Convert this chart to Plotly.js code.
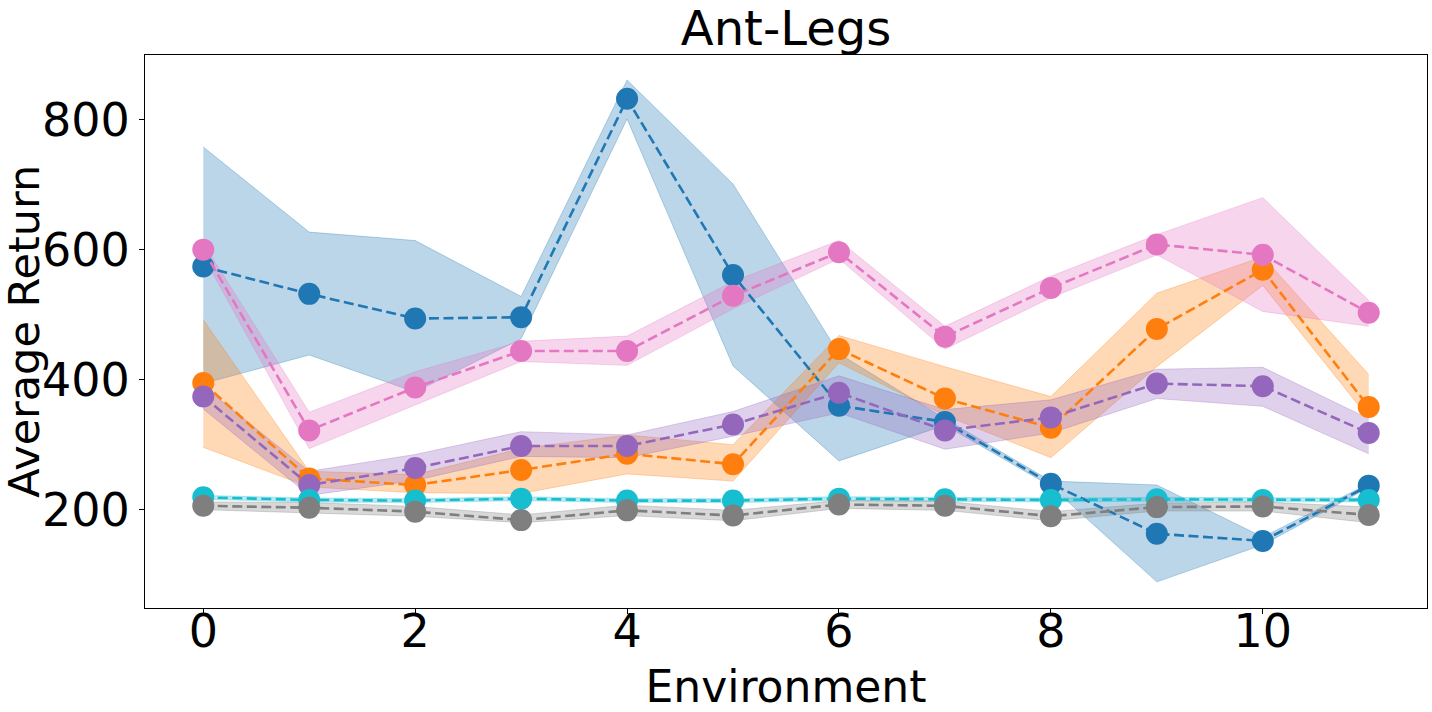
<!DOCTYPE html>
<html>
<head>
<meta charset="utf-8">
<script src="https://cdn.plot.ly/plotly-3.0.1.min.js"></script>
<style>
  body { margin: 0; background: #fff; }
  #plot { width: 1432px; height: 712px; }
</style>
</head>
<body>
<div id="plot"></div>
<script>
// environments on the x axis
var envs = [0, 1, 2, 3, 4, 5, 6, 7, 8, 9, 10, 11];

// mean return and band edges per method
var blueMean  = [574, 532, 494, 496, 832, 561, 360, 335, 240, 163, 152, 237];
var blueUpper = [758, 627, 614, 528, 861, 701, 440, 340, 244, 238, 158, 240];
var blueLower = [394, 438, 381, 463, 801, 421, 275, 330, 236, 89, 146, 234];

var orangeMean  = [395, 248, 238, 261, 286, 270, 447, 371, 326, 478, 569, 358];
var orangeUpper = [492, 259, 254, 294, 315, 300, 468, 420, 374, 533, 589, 408];
var orangeLower = [296, 235, 226, 225, 255, 244, 426, 345, 280, 420, 545, 341];

var purpleMean  = [374, 238, 264, 298, 298, 331, 380, 322, 342, 394, 390, 318];
var purpleUpper = [390, 259, 285, 320, 315, 351, 406, 354, 369, 416, 419, 340];
var purpleLower = [355, 222, 245, 282, 280, 313, 349, 293, 318, 371, 359, 286];

var pinkMean  = [600, 322, 388, 444, 444, 529, 596, 466, 541, 608, 592, 503];
var pinkUpper = [610, 350, 412, 459, 467, 551, 614, 482, 559, 623, 680, 522];
var pinkLower = [590, 294, 361, 428, 422, 509, 586, 447, 526, 592, 505, 482];

var cyanMean  = [219, 215, 214, 217, 214, 214, 217, 216, 215, 216, 215, 215];
var cyanUpper = [222, 218, 217, 220, 217, 217, 220, 219, 218, 219, 218, 218];
var cyanLower = [216, 212, 211, 214, 211, 211, 214, 213, 212, 213, 212, 212];

var grayMean  = [206, 203, 197, 184, 199, 191, 208, 206, 190, 204, 205, 192];
var grayUpper = [212, 211, 205, 192, 207, 199, 214, 213, 197, 210, 212, 204];
var grayLower = [200, 195, 190, 180, 191, 183, 202, 199, 183, 198, 198, 180];

// drawing order matches the original: later series sit on top
var series = [
  {color: [31, 119, 180],  mean: blueMean,   upper: blueUpper,   lower: blueLower},
  {color: [255, 127, 14],  mean: orangeMean, upper: orangeUpper, lower: orangeLower},
  {color: [148, 103, 189], mean: purpleMean, upper: purpleUpper, lower: purpleLower},
  {color: [227, 119, 194], mean: pinkMean,   upper: pinkUpper,   lower: pinkLower},
  {color: [23, 190, 207],  mean: cyanMean,   upper: cyanUpper,   lower: cyanLower},
  {color: [127, 127, 127], mean: grayMean,   upper: grayUpper,   lower: grayLower}
];

function rgba(c, a) {
  return 'rgba(' + c[0] + ',' + c[1] + ',' + c[2] + ',' + a + ')';
}

var data = [];

// all the shaded bands go first so every line ends up above every band
series.forEach(function (s) {
  data.push({
    x: envs, y: s.lower, type: 'scatter', mode: 'lines',
    line: {color: rgba(s.color, 0.3), width: 1},
    showlegend: false, hoverinfo: 'skip'
  });
  data.push({
    x: envs, y: s.upper, type: 'scatter', mode: 'lines',
    fill: 'tonexty', fillcolor: rgba(s.color, 0.3),
    line: {color: rgba(s.color, 0.3), width: 1},
    showlegend: false, hoverinfo: 'skip'
  });
});

series.forEach(function (s) {
  data.push({
    x: envs, y: s.mean, type: 'scatter', mode: 'lines+markers',
    line: {color: rgba(s.color, 1), width: 2.6, dash: '10px,4.5px'},
    marker: {color: rgba(s.color, 1), size: 22},
    showlegend: false
  });
});

var font = 'DejaVu Sans, Liberation Sans, sans-serif';

var layout = {
  width: 1432,
  height: 712,
  margin: {l: 145, r: 5, t: 55, b: 104},
  paper_bgcolor: '#fff',
  plot_bgcolor: '#fff',
  hovermode: false,
  showlegend: false,
  font: {family: font, color: '#000'},
  title: {
    text: 'Ant-Legs',
    font: {family: font, size: 48, color: '#000'},
    x: 0.5, xref: 'paper', xanchor: 'center',
    y: 1, yref: 'paper', yanchor: 'bottom',
    pad: {b: 10}
  },
  xaxis: {
    range: [-0.55, 11.55],
    tickvals: [0, 2, 4, 6, 8, 10],
    ticks: 'outside', ticklen: 5, tickwidth: 1, tickcolor: '#000',
    ticklabelstandoff: -22,
    tickfont: {family: font, size: 46, color: '#000'},
    showline: true, mirror: true, linecolor: '#000', linewidth: 1,
    showgrid: false, zeroline: false,
    title: {text: 'Environment', font: {family: font, size: 44, color: '#000'}, standoff: 20}
  },
  yaxis: {
    range: [48.8, 899.4],
    tickvals: [200, 400, 600, 800],
    ticks: 'outside', ticklen: 5, tickwidth: 1, tickcolor: '#000',
    tickfont: {family: font, size: 46, color: '#000'},
    showline: true, mirror: true, linecolor: '#000', linewidth: 1,
    showgrid: false, zeroline: false
  },
  // y title as a rotated annotation so it can sit exactly where the original has it
  annotations: [{
    text: 'Average Return',
    xref: 'paper', yref: 'paper',
    x: -0.095, y: 0.5, xanchor: 'center', yanchor: 'middle',
    textangle: -90, showarrow: false,
    font: {family: font, size: 43, color: '#000'}
  }]
};

Plotly.newPlot('plot', data, layout, {staticPlot: true, displayModeBar: false});
</script>
</body>
</html>
